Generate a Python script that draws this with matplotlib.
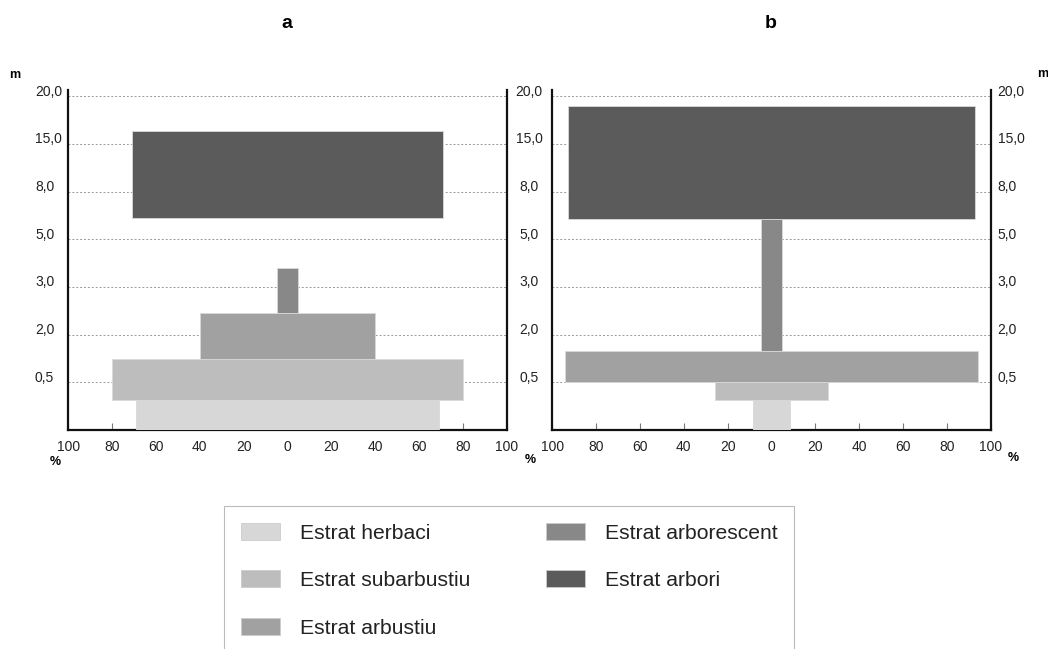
import numpy as np
import matplotlib
matplotlib.use("Agg")
import matplotlib.pyplot as plt
from matplotlib.patches import Patch
from matplotlib.transforms import ScaledTranslation

plt.rcParams['font.family'] = ['Liberation Sans', 'DejaVu Sans']

# height classes (m), drawn as evenly spaced levels 1..7 above the ground line
height_labels = ['0,5', '2,0', '3,0', '5,0', '8,0', '15,0', '20,0']
x_ticks = [-100, -80, -60, -40, -20, 0, 20, 40, 60, 80, 100]

strata = ['Estrat herbaci', 'Estrat subarbustiu', 'Estrat arbustiu',
          'Estrat arborescent', 'Estrat arbori']
colors = ['#d7d7d7', '#bdbdbd', '#a1a1a1', '#888888', '#5b5b5b']

# panel a: lower / upper limit of each layer (level units) and cover (%)
a_low = [0.0, 0.63, 1.49, 2.45, 4.44]
a_high = [0.63, 1.49, 2.45, 3.39, 6.26]
a_cover = [69, 80, 40, 5, 71]

# panel b
b_low = [0.0, 0.62, 1.0, 1.65, 4.43]
b_high = [0.62, 1.0, 1.65, 4.43, 6.79]
b_cover = [8.5, 26, 94, 5, 93]

W, H = 1048, 649
fig = plt.figure(figsize=(W / 100, H / 100), dpi=100)


def px_axes(x0, x1, y0, y1):
    return fig.add_axes([x0 / W, 1 - y1 / H, (x1 - x0) / W, (y1 - y0) / H])


def px_shift(dx, dy):
    return ScaledTranslation(dx / 100, dy / 100, fig.dpi_scale_trans)


def draw_panel(ax, low, high, cover):
    low = np.array(low)
    high = np.array(high)
    cover = np.array(cover)
    ax.barh(low, 2 * cover, height=high - low, left=-cover, align='edge',
            color=colors, edgecolor='#d9d9d9', linewidth=0.6, zorder=3)
    ax.set_xlim(-100, 100)
    ax.set_ylim(0, 7.13)
    ax.set_xticks(x_ticks)
    ax.set_xticklabels([str(abs(v)) for v in x_ticks], fontsize=10, color='#222222')
    ax.tick_params(axis='x', direction='in', length=5, width=0.8, color='#777777', pad=7)
    ax.set_yticks(range(1, 8))
    ax.set_yticklabels(height_labels, fontsize=10, color='#222222')
    ax.yaxis.grid(True, linestyle=(0, (2, 2)), color='#999999', linewidth=0.7, zorder=0)
    ax.set_axisbelow(True)
    for s in ['left', 'right', 'bottom']:
        ax.spines[s].set_linewidth(1.6)
        ax.spines[s].set_color('#111111')
    ax.spines['top'].set_visible(False)


ax_a = px_axes(68.3, 506.7, 90, 430)
ax_b = px_axes(552.3, 990.7, 90, 430)
draw_panel(ax_a, a_low, a_high, a_cover)
draw_panel(ax_b, b_low, b_high, b_cover)

# panel a: labels on both sides
ax_a.tick_params(axis='y', length=0, left=False, right=False,
                 labelleft=True, labelright=True, pad=24)
for tick in ax_a.yaxis.get_major_ticks():
    tick.label1.set_horizontalalignment('left')
    tick.label1.set_transform(tick.label1.get_transform() + px_shift(0, 6))
    tick.label2.set_horizontalalignment('center')
    tick.label2.set_transform(tick.label2.get_transform() + px_shift(-11, 6))

# panel b: labels only on the right
ax_b.tick_params(axis='y', length=0, left=False, right=False,
                 labelleft=False, labelright=True, pad=5)
for tick in ax_b.yaxis.get_major_ticks():
    tick.label2.set_transform(tick.label2.get_transform() + px_shift(0, 6))

fig.text(287 / W, 1 - 24 / H, 'a', fontsize=14, fontweight='bold', ha='center', va='center')
fig.text(771 / W, 1 - 24 / H, 'b', fontsize=14, fontweight='bold', ha='center', va='center')
fig.text(15 / W, 1 - 75 / H, 'm', fontsize=9, fontweight='bold', ha='center', va='center')
fig.text(1043 / W, 1 - 74 / H, 'm', fontsize=9, fontweight='bold', ha='center', va='center')
for xp, yp in [(55, 462), (530, 460), (1013, 458)]:
    fig.text(xp / W, 1 - yp / H, '%', fontsize=9, fontweight='bold', ha='center', va='center')

handles = [Patch(facecolor=c, edgecolor='#cccccc', linewidth=0.6) for c in colors]
leg = fig.legend(handles, strata, loc='upper left', bbox_to_anchor=(224 / W, 1 - 506 / H),
                 ncol=2, fontsize=15.2, frameon=True, fancybox=False,
                 handlelength=1.85, handleheight=0.85, handletextpad=0.95,
                 labelspacing=1.32, columnspacing=3.57, borderpad=0.8,
                 borderaxespad=0)
leg.get_frame().set_edgecolor('#aaaaaa')
leg.get_frame().set_linewidth(0.8)
for t in leg.get_texts():
    t.set_color('#222222')

fig.savefig('out.png', dpi=100)
